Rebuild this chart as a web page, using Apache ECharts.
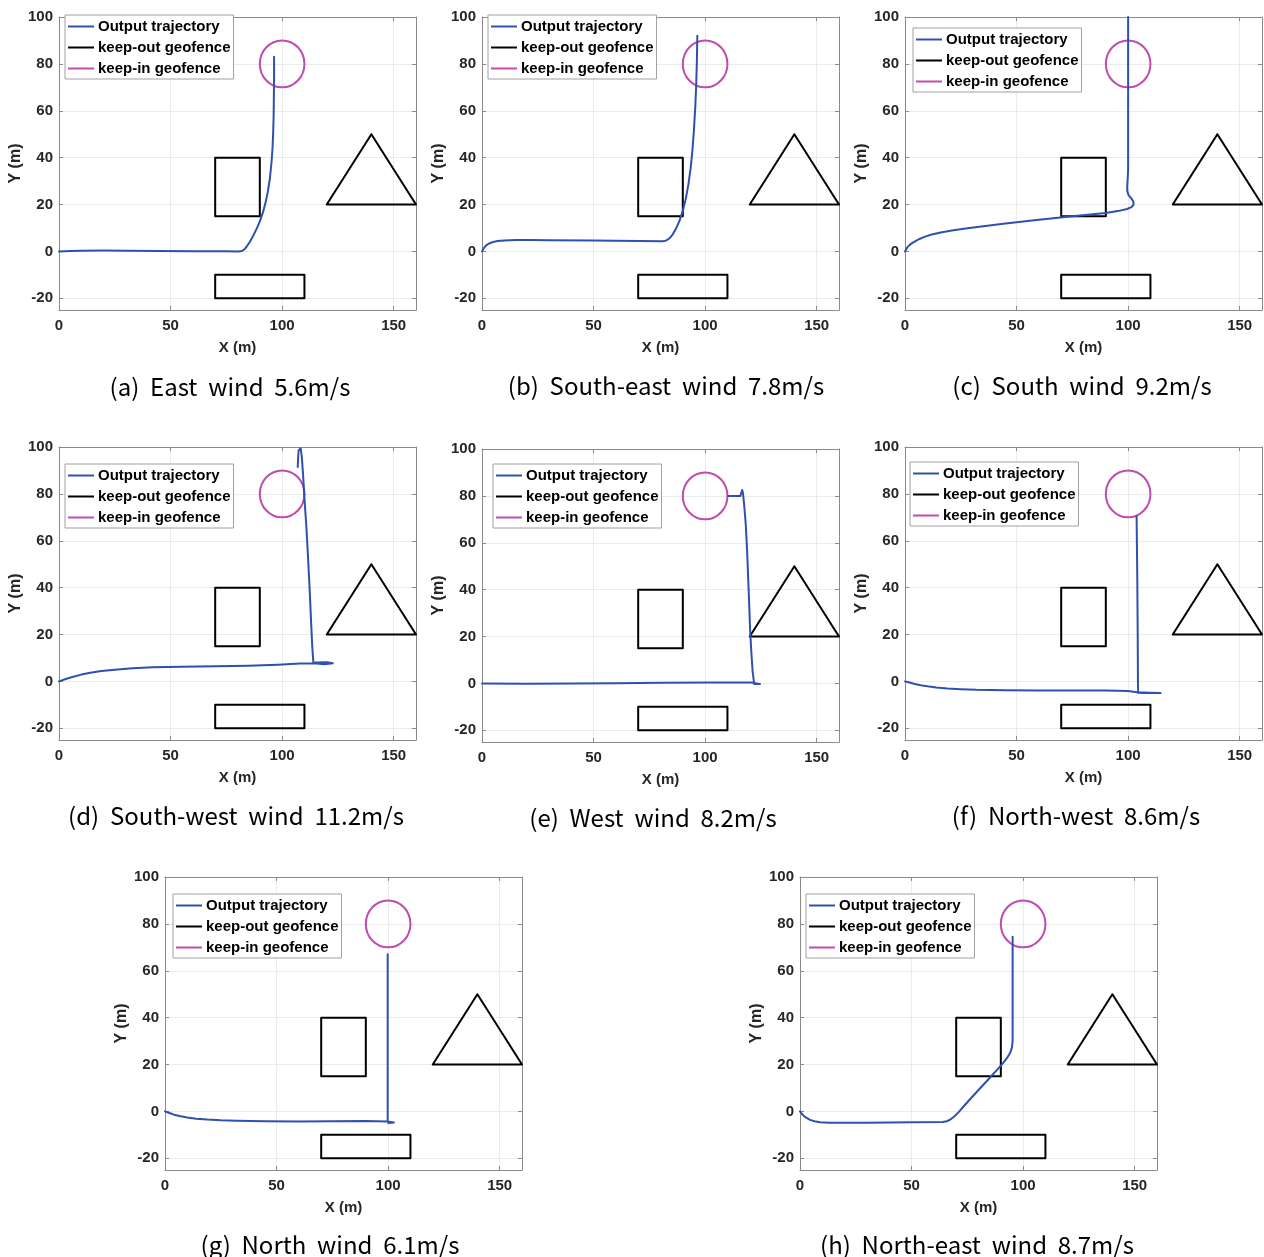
<!DOCTYPE html>
<html>
<head>
<meta charset="utf-8">
<script src="https://cdn.jsdelivr.net/npm/echarts@6/dist/echarts.min.js"></script>
<style>html,body{margin:0;padding:0;background:#fff;}#main{width:1264px;height:1257px;}</style>
</head>
<body>
<div id="main"></div>
<script>
// ---- data (metres) ----
const trajA = [[0,0],[5,0.2],[10,0.3],[20,0.35],[30,0.3],[45,0.2],[60,0.1],[75,0.05],[80.5,0],[82,0.2],[83,0.8],[84.2,2.2],[85.5,4],[87,6.6],[88.5,9.5],[90,12.8],[91.3,16.3],[92.5,20.5],[93.6,25.5],[94.5,31],[95.2,37.5],[95.7,44],[96,51],[96.2,58],[96.3,66],[96.4,75],[96.4,83]];
const trajB = [[0,0],[0.5,0.9],[1.2,1.9],[2.2,2.8],[3.5,3.5],[5,4],[7,4.4],[10,4.7],[15,4.9],[22,4.9],[30,4.8],[50,4.6],[70,4.4],[81,4.3],[82.5,4.6],[84,5.6],[85.5,7.3],[87,9.8],[88.5,13],[90,17.3],[91.3,22.3],[92.5,28.5],[93.5,35.5],[94.3,43],[95,52],[95.6,62],[96,71],[96.3,81],[96.5,92]];
const trajC = [[0,0],[0.4,0.8],[1,1.7],[2,2.7],[3,3.4],[4.5,4.3],[6.5,5.3],[9,6.3],[12,7.2],[16,8.1],[21,8.9],[28,9.9],[36,10.8],[45,11.9],[60,13.5],[75,15],[90,16.4],[96,17.3],[99.5,18.1],[101.5,18.9],[102.4,19.9],[102.4,21.2],[101.5,22.5],[100.2,24],[99.6,25.8],[99.6,28],[99.8,31],[100,35],[100,60],[100,100]];
const trajD = [[0,0],[3,1],[6,1.9],[10,2.9],[14,3.7],[19,4.4],[25,5],[33,5.6],[42,6],[55,6.3],[70,6.5],[85,6.7],[98,7.1],[108,7.6],[114,7.7],[119,7.3],[122.7,7.7],[120,8.2],[115,8.1],[114,8],[113.5,15],[113,25],[112.3,40],[111.5,55],[110.8,67],[110,78],[109.4,88],[108.8,96],[108.3,99.5],[107.8,99.8],[107.4,98.5],[107.2,96],[107,91.5]];
const trajE = [[0,0],[20,-0.1],[40,-0.05],[60,0.1],[80,0.3],[100,0.4],[115,0.4],[121,0.4],[123,0],[124.6,-0.3],[122,-0.3],[121.5,0.5],[121.3,5],[120.8,12],[120.2,22],[119.5,40],[118.8,57],[118.2,68],[117.6,75],[117.2,79],[116.9,81.5],[116.6,82.5],[116.2,81.8],[115.8,80],[115.2,79.5],[114.3,80],[112,80],[110.3,80]];
const trajF = [[0,0],[2,-0.5],[4,-1],[7,-1.6],[10,-2.1],[14,-2.6],[19,-3],[25,-3.3],[32,-3.6],[45,-3.8],[60,-3.9],[90,-3.85],[100,-4.1],[104,-4.6],[110,-4.8],[114.5,-5],[108,-5],[104.5,-5],[104.4,0],[104.3,20],[104.1,45],[103.8,70.5]];
const trajG = [[0,0],[2,-0.7],[4,-1.4],[7,-2.1],[10,-2.6],[14,-3.1],[19,-3.5],[25,-3.8],[32,-4],[45,-4.2],[60,-4.3],[90,-4.1],[99.5,-4.3],[102.6,-4.7],[100,-4.9],[99.8,-4],[99.8,20],[99.8,45],[99.8,67]];
const trajH = [[0,0],[0.8,-1],[1.8,-2],[3,-2.8],[4.5,-3.6],[6.5,-4.2],[9,-4.6],[13,-4.8],[30,-4.8],[50,-4.6],[64,-4.5],[65.8,-4.2],[67.3,-3.5],[69,-2.3],[71,-0.4],[73.5,2.3],[76.5,5.5],[79.5,8.6],[82.5,11.7],[85.5,14.8],[88.3,17.7],[90.8,20.4],[92.8,22.8],[94.2,25],[95,27.3],[95.3,30],[95.3,45],[95.3,60],[95.3,74.5]];
const trajectories = [trajA, trajB, trajC, trajD, trajE, trajF, trajG, trajH];

const keepOutRectUpper = [[70,15],[90,15],[90,40],[70,40],[70,15]];
const keepOutRectLower = [[70,-20],[110,-20],[110,-10],[70,-10],[70,-20]];
const keepOutTriangle = [[120,20],[160,20],[140,50],[120,20]];
const keepInCircle = [[100,80,10]]; // centre x, centre y, radius

const captions = ['(a)  East  wind  5.6m/s','(b)  South-east  wind  7.8m/s','(c)  South  wind  9.2m/s','(d)  South-west  wind  11.2m/s','(e)  West  wind  8.2m/s','(f)  North-west  8.6m/s','(g)  North  wind  6.1m/s','(h)  North-east  wind  8.7m/s'];
const legendNames = ['Output trajectory','keep-out geofence','keep-in geofence'];
const xLabelName = 'X (m)';
const yLabelName = 'Y (m)';

// ---- layout ----
const gridPos = [[59,17],[482,17],[905,17],[59,447],[482,449],[905,447],[165,877],[800,877]];
const legendPos = [[65,15],[488,15],[913,28],[65,464],[493,464],[910,462],[173,894],[806,894]];
const captionPos = [[230,387],[666,386],[1082,386],[236,816],[653,818],[1076,816],[330,1245],[977,1245]];
const GW = 357, GH = 293;
const BLUE = '#3050B0', MAG = '#BF4DAF', BLACK = '#000000', AXC = '#8a8a8a';
const FONT = '"Liberation Sans", Arial, sans-serif';

const grids = [], xAxes = [], yAxes = [], series = [], legends = [], graphics = [];
gridPos.forEach((p, i) => {
  grids.push({left: p[0], top: p[1], width: GW, height: GH, containLabel: false});
  const common = {type: 'value', gridIndex: i, axisLine: {show: true, onZero: false, lineStyle: {color: AXC, width: 1}},
    axisTick: {show: true, inside: true, length: 4, lineStyle: {color: AXC}}};
  xAxes.push(Object.assign({}, common, {position: 'bottom', min: 0, max: 160, interval: 50,
    name: xLabelName, nameLocation: 'middle', nameGap: 30,
    nameTextStyle: {color: '#262626', fontWeight: 'bold', fontSize: 15, fontFamily: FONT},
    axisLabel: {color: '#262626', fontWeight: 'bold', fontSize: 15, fontFamily: FONT, margin: 8, showMaxLabel: false},
    splitLine: {show: true, lineStyle: {color: '#ebebeb', width: 1}}}));
  xAxes.push(Object.assign({}, common, {position: 'top', min: 0, max: 160, interval: 50,
    axisLabel: {show: false}, splitLine: {show: false}}));
  yAxes.push(Object.assign({}, common, {position: 'left', min: -25, max: 100, splitNumber: 6,
    name: yLabelName, nameLocation: 'middle', nameGap: 34, nameRotate: 90,
    nameTextStyle: {color: '#262626', fontWeight: 'bold', fontSize: 16, fontFamily: FONT},
    axisLabel: {color: '#262626', fontWeight: 'bold', fontSize: 15, fontFamily: FONT, margin: 6, showMinLabel: false},
    splitLine: {show: true, lineStyle: {color: '#ebebeb', width: 1}}}));
  yAxes.push(Object.assign({}, common, {position: 'right', min: -25, max: 100, splitNumber: 6,
    axisLabel: {show: false}, splitLine: {show: false}}));

  const xi = 2 * i, yi = 2 * i;
  const lineSeries = (name, data, color, z) => ({
    type: 'line', name, data, xAxisIndex: xi, yAxisIndex: yi, symbol: 'none', showSymbol: false,
    smooth: false, animation: false, z,
    itemStyle: {color}, lineStyle: {color, width: 2, join: 'round', cap: 'round'}
  });
  series.push(lineSeries(legendNames[0], trajectories[i], BLUE, 5));
  series.push(lineSeries(legendNames[1], keepOutRectUpper, BLACK, 3));
  series.push(lineSeries(legendNames[1], keepOutRectLower, BLACK, 3));
  series.push(lineSeries(legendNames[1], keepOutTriangle, BLACK, 3));
  series.push({
    type: 'custom', name: legendNames[2], data: keepInCircle, xAxisIndex: xi, yAxisIndex: yi,
    animation: false, z: 4, itemStyle: {color: MAG},
    renderItem: (params, api) => {
      const cx = api.value(0), cy = api.value(1), r = api.value(2);
      const c = api.coord([cx, cy]);
      const e = api.coord([cx + r, cy]);
      const t = api.coord([cx, cy + r]);
      const rx = e[0] - c[0], ry = c[1] - t[1];
      return {type: 'circle', x: c[0], y: c[1], scaleY: ry / rx,
        shape: {cx: 0, cy: 0, r: rx},
        style: {fill: 'none', stroke: MAG, lineWidth: 2, strokeNoScale: true}};
    }
  });

  legends.push({
    left: legendPos[i][0], top: legendPos[i][1], orient: 'vertical',
    data: legendNames, icon: 'rect', itemWidth: 26, itemHeight: 2, itemGap: 0,
    selectedMode: false, backgroundColor: '#ffffff', borderColor: '#a0a0a0', borderWidth: 1,
    padding: [1, 3, 0, 3], z: 10,
    textStyle: {color: '#000', fontWeight: 'bold', fontSize: 15, fontFamily: FONT, lineHeight: 21, padding: [0,0,0,-1]}
  });

  graphics.push({type: 'text', x: captionPos[i][0], y: captionPos[i][1], silent: true,
    style: {text: captions[i], fill: '#000', font: '24px "Noto Sans CJK KR", "Noto Sans", sans-serif',
      textAlign: 'center', textVerticalAlign: 'middle'}});
});

const chart = echarts.init(document.getElementById('main'), null, {renderer: 'canvas'});
chart.setOption({
  animation: false,
  backgroundColor: '#ffffff',
  grid: grids, xAxis: xAxes, yAxis: yAxes, series, legend: legends, graphic: graphics
});
</script>
</body>
</html>
